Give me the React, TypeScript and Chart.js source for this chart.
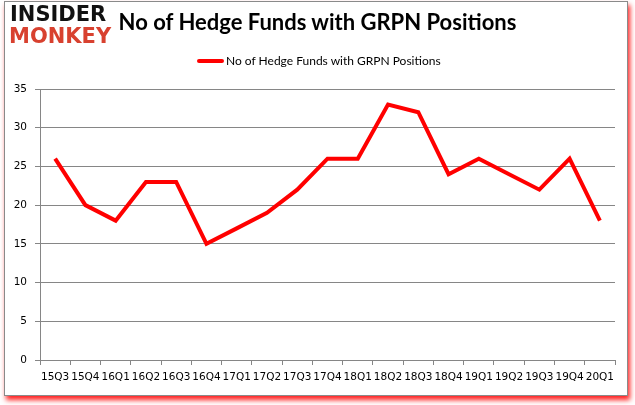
import React, { useEffect, useRef } from "react";
import { Chart, registerables } from "chart.js";

Chart.register(...registerables);

const categories = ["15Q3","15Q4","16Q1","16Q2","16Q3","16Q4","17Q1","17Q2","17Q3","17Q4","18Q1","18Q2","18Q3","18Q4","19Q1","19Q2","19Q3","19Q4","20Q1"];
const hedgeFunds = [26,20,18,23,23,15,17,19,22,26,26,33,32,24,26,24,22,26,18];
const seriesLabel = "No of Hedge Funds with GRPN Positions";
const titleText = "No of Hedge Funds with GRPN Positions";

export default function App() {
  const ref = useRef<HTMLCanvasElement>(null);
  useEffect(() => {
    document.body.style.margin = "0";
    const chart = new Chart(ref.current!, {
      type: "line",
      data: {
        labels: categories,
        datasets: [{
          label: seriesLabel,
          data: hedgeFunds,
          borderColor: "#ff0000",
          backgroundColor: "#ff0000",
          borderWidth: 4,
          pointRadius: 0,
          tension: 0,
        }],
      },
      options: {
        animation: false,
        responsive: false,
        maintainAspectRatio: false,
        layout: { padding: { left: 0, right: 20, top: 89, bottom: 0 } },
        plugins: { legend: { display: false }, title: { display: false }, tooltip: { enabled: false } },
        scales: {
          x: {
            offset: true,
            grid: { offset: true, drawOnChartArea: false, color: "#868686", tickLength: 5 },
            border: { color: "#868686" },
            ticks: { autoSkip: false, maxRotation: 0, minRotation: 0, color: "#000", padding: 6,
              font: { family: "'DejaVu Sans'", size: 10.5 } },
            afterFit: (s: any) => { s.height = 45; },
          },
          y: {
            min: 0, max: 35,
            ticks: { stepSize: 5, color: "#000", padding: 8,
              font: { family: "'DejaVu Sans'", size: 10.5 } },
            grid: { color: "#868686", tickLength: 5, drawTicks: true },
            border: { color: "#868686" },
            afterFit: (s: any) => { s.width = 40; },
          },
        },
      },
    });
    return () => chart.destroy();
  }, []);
  return (
    <div style={{ position: "absolute", left: 0, top: 0, width: 635, height: 405, background: "#fff" }}>
      <div style={{ position: "absolute", left: 4, top: 1, width: 622, height: 393, border: "1px solid #8a8a8a", boxShadow: "2px 4px 5px #ff2020" }} />
      <canvas ref={ref} width={635} height={405} style={{ position: "absolute", left: 0, top: 0 }} />
      <div style={{ position: "absolute", left: 10, top: 4, fontFamily: "'DejaVu Sans'", fontWeight: 900, fontSize: 21, lineHeight: "21px", color: "#111", letterSpacing: 0 }}>INSIDER</div>
      <div style={{ position: "absolute", left: 9, top: 25, fontFamily: "'DejaVu Sans'", fontWeight: 900, fontSize: 21, lineHeight: "22px", color: "#d8412f", letterSpacing: 0 }}>MONKEY</div>
      <div style={{ position: "absolute", left: 0, width: 635, top: 8, textAlign: "center", fontFamily: "Lato", fontWeight: 700, fontSize: 22, color: "#000" }}>
        {titleText}
      </div>
      <div style={{ position: "absolute", left: 197, top: 53, display: "flex", alignItems: "center" }}>
        <div style={{ width: 27, height: 4, background: "#ff0000", borderRadius: 2 }} />
        <span style={{ fontFamily: "Lato", fontSize: 12, color: "#000", marginLeft: 2 }}>{seriesLabel}</span>
      </div>
    </div>
  );
}
